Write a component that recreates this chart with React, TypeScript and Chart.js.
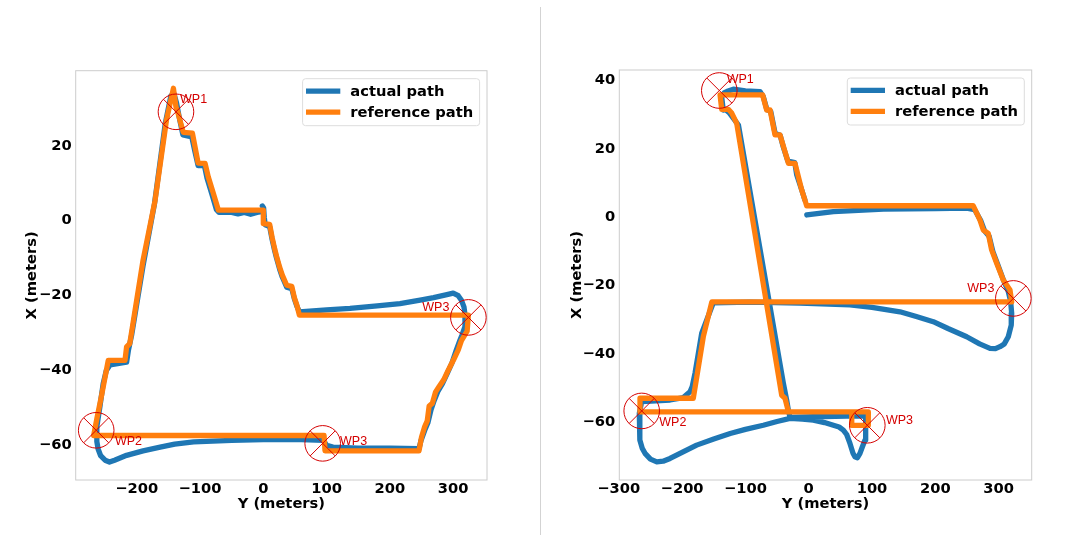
import React, { useEffect, useRef } from "react";
import { Chart, registerables } from "chart.js";

Chart.register(...registerables);
Chart.defaults.font.family = "'DejaVu Sans', sans-serif";

const BLUE = "#1f77b4";
const ORANGE = "#ff7f0e";
const WP_RED = "#d40000";

const seriesLabels = ["actual path", "reference path"];
const axisTitleH = "Y (meters)";
const axisTitleV = "X (meters)";

const leftXTicks = [-200, -100, 0, 100, 200, 300];
const leftYTicks = [-60, -40, -20, 0, 20];
const rightXTicks = [-300, -200, -100, 0, 100, 200, 300];
const rightYTicks = [-60, -40, -20, 0, 20, 40];
const leftXRange = [-296.4, 353.4];
const leftYRange = [-69.8, 39.7];
const rightXRange = [-299.2, 352.3];
const rightYRange = [-77.3, 42.6];

// pairs are [Y (meters) horizontal, X (meters) vertical]
const leftReference: [number, number][] = [
  [0, 2.4], [0, -1.2], [10, -1.4], [14, -5], [18, -8], [21, -10], [26, -13], [30, -15],
  [37, -17.7], [45, -18], [49, -21], [53, -23], [57, -25.7], [324, -25.7], [322, -30],
  [313, -32.5], [308, -35], [301, -37.5], [292, -40.5], [285, -43], [277, -45], [272, -46.3],
  [267, -49.3], [262, -50], [259, -54], [255, -55.5], [250, -58.3], [246, -62], [97.5, -62],
  [96, -57.9], [-268, -57.9], [-263, -53.4], [-255, -46.7], [-245, -37.8], [-218.5, -37.8],
  [-216, -34.2], [-211, -33.3], [-190, -11], [-171, 5], [-153, 26.5], [-142, 35], [-138, 30],
  [-135, 28.5], [-131, 26], [-126.4, 23.2], [-112, 23], [-103, 15], [-92, 14.9], [-87, 11.3],
  [-79, 6.9], [-71, 2.4], [-2.5, 2.4], [0, 2.4],
];

const leftActual: [number, number][] = [
  [-1.5, 3.5], [0.5, 3], [1.5, 0.5], [3, -1.5], [10, -2], [14, -5.5], [18, -8.5], [21, -10.5],
  [26, -13.5], [30, -15.5], [37, -18.2], [45, -18.6], [49, -21.3], [53, -23.3], [57, -24.8],
  [100, -24.3], [137, -23.9], [180, -23.2], [216, -22.6], [250, -21.6], [269, -21], [290, -20.2],
  [300, -19.8], [308, -20.5], [313, -21.7], [317, -23.5], [318.6, -25.5], [318.6, -28.8],
  [314, -31], [310.5, -32.5], [305, -35], [298, -38.5], [290, -41.5], [283, -44], [276, -46],
  [270, -48.5], [265, -51], [260, -54.5], [255, -56.5], [249, -59.3], [246, -61.4], [200, -61.3],
  [150, -61.3], [110, -61], [100, -60.5], [95, -59.2], [60, -59], [0, -59], [-50, -59.2],
  [-110, -59.6], [-140, -60.2], [-163, -61], [-190, -62], [-216, -63.2], [-235, -64.5],
  [-243, -65], [-250, -64.5], [-257, -63.3], [-261, -61.5], [-263, -59.5], [-263, -55.6],
  [-258, -50], [-253, -44], [-248, -40.5], [-242, -39], [-216, -38.3], [-213, -35], [-208, -31],
  [-190, -12.5], [-172, 4], [-155, 25.5], [-146, 33], [-141, 33.5], [-137, 31], [-132, 26.5],
  [-127, 22.5], [-113, 22], [-108, 18], [-103, 14.3], [-93, 14.3], [-89, 11], [-80, 6],
  [-74, 2.5], [-70, 1.8], [-50, 1.8], [-40, 1.4], [-30, 1.8], [-20, 1.3], [-10, 1.8], [-3, 2],
];

const leftWaypoints: [number, number][] = [[-138, 28.7], [-264, -56.5], [93.8, -60], [324, -26.3]];
const leftWaypointNames = ["WP1", "WP2", "WP3", "WP3"];
const leftWaypointLabelAt: [number, number][] = [[-131.6, 32.1], [-234.4, -59.6], [121.2, -59.4], [251.2, -23.6]];

const rightReference: [number, number][] = [
  [-3, 2.9], [260, 2.9], [270.6, -1.3], [275.8, -4.2], [283.7, -5.2], [289, -10], [297, -13.9],
  [307.4, -18.8], [318, -21.7], [320.7, -25.2], [-153, -25.2], [-166.5, -35.4], [-182.3, -53.4],
  [-266.5, -53.4], [-266.5, -57.4], [94.2, -57.4], [94.2, -61.3], [68, -61.3], [68, -57.4],
  [-32, -57.4], [-37.4, -53.4], [-42.6, -52.5], [-113.7, 27], [-121.6, 30], [-127, 31.1],
  [-137.4, 31.1], [-140, 35.3], [-72.7, 35.3], [-66.4, 30.9], [-61, 30.9], [-53.2, 23.6],
  [-45.3, 23.6], [-32, 15.3], [-21.6, 15.3], [-11, 7.5], [-3.2, 2.9],
];

const rightActual: [number, number][] = [
  [-3, 0.2], [39, 1.2], [118, 1.9], [200, 2.1], [249.6, 2.2], [262, 1.8], [272, -1.5], [278, -4.5],
  [285, -6], [291, -10.5], [299, -14.5], [308, -19], [315, -22], [319, -25], [320.7, -28.6],
  [320, -32], [315.3, -35.4], [309, -37.5], [302.2, -38.3], [295, -38.9], [286.4, -38.8],
  [270, -37.5], [249.6, -35.4], [220, -33], [196.8, -31], [170, -29.5], [144.2, -28.1],
  [100, -26.8], [65.2, -26.1], [-13.7, -25.6], [-92.7, -25.3], [-150.7, -25.5], [-160, -30],
  [-169, -34.4], [-175, -41], [-179.6, -46.1], [-184, -50], [-187.5, -51.5], [-198, -53.2],
  [-219, -53.9], [-263.8, -54.4], [-267.6, -57.8], [-267, -62], [-266.5, -65.6], [-263, -68],
  [-258.6, -69.5], [-250, -71.2], [-240, -72], [-230, -71.8], [-219, -71], [-200, -69.2],
  [-177, -67.1], [-150, -65.3], [-124, -63.7], [-100, -62.5], [-71.7, -61.3], [-50, -60.2],
  [-29.5, -59.3], [-10, -59.5], [7.3, -59.8], [25, -60.5], [39, -61.3], [48, -61.8],
  [54.7, -62.7], [60, -64], [65.2, -66.6], [70, -69.5], [73, -70.5], [77, -70.8], [81, -69.5],
  [85, -67.5], [89, -65.6], [90.5, -62], [90.5, -59.8], [89, -58.6], [60, -58.6], [7.3, -58.8],
  [-29.5, -59], [-32, -57], [-34.8, -53.9], [-40, -49], [-111, 26.5], [-125, 30], [-131, 31],
  [-135, 30.9], [-137.5, 34.8], [-133, 36], [-129.5, 36.3], [-119, 37], [-100, 36.5],
  [-77, 36.3], [-71.7, 34.8], [-66, 31], [-60, 30.5], [-53, 24], [-45, 23.5], [-40, 20],
  [-33, 16], [-22, 15.5], [-19, 12], [-11, 7.5], [-6, 4.6],
];

const rightWaypoints: [number, number][] = [[-141.2, 36.6], [-263.8, -57.1], [92.6, -61.3], [323.3, -24.2]];
const rightWaypointNames = ["WP1", "WP2", "WP3", "WP3"];
const rightWaypointLabelAt: [number, number][] = [[-129.5, 39.7], [-236, -60.5], [122.1, -60], [250.6, -21.2]];

const TICK_FONT = { family: "'DejaVu Sans', sans-serif", size: 14.7, weight: "bold" as const };

function fmt(v: number) {
  return v < 0 ? "\u2212" + Math.abs(v) : String(v);
}

type PanelSpec = {
  actual: [number, number][];
  reference: [number, number][];
  waypoints: [number, number][];
  names: string[];
  labelAt: [number, number][];
  xTicks: number[];
  yTicks: number[];
  xRange: number[];
  yRange: number[];
  yAxisWidth: number;
  yTitlePad: number;
  padding: { top: number; right: number; bottom: number; left: number };
};

const framePlugin = {
  id: "frame",
  beforeDatasetsDraw(chart: any) {
    const { ctx, chartArea: a } = chart;
    ctx.save();
    ctx.strokeStyle = "#cccccc";
    ctx.lineWidth = 1;
    ctx.strokeRect(a.left, a.top, a.right - a.left, a.bottom - a.top);
    ctx.restore();
  },
};

const legendPlugin = {
  id: "pathLegend",
  afterDraw(chart: any) {
    const { ctx, chartArea: a } = chart;
    const w = 177;
    const h = 47;
    const x0 = a.right - 7.4 - w;
    const y0 = a.top + 8;
    ctx.save();
    ctx.fillStyle = "rgba(255,255,255,0.8)";
    ctx.strokeStyle = "#dddddd";
    ctx.lineWidth = 1;
    ctx.beginPath();
    (ctx as any).roundRect(x0, y0, w, h, 3);
    ctx.fill();
    ctx.stroke();
    ctx.font = "bold 14.7px 'DejaVu Sans', sans-serif";
    ctx.textBaseline = "middle";
    ctx.textAlign = "left";
    for (let i = 0; i < 2; i++) {
      const ds = chart.data.datasets[i];
      const y = y0 + 12.4 + i * 21;
      ctx.strokeStyle = ds.borderColor;
      ctx.lineWidth = 5.3;
      ctx.lineCap = "butt";
      ctx.beginPath();
      ctx.moveTo(x0 + 3.4, y);
      ctx.lineTo(x0 + 37.7, y);
      ctx.stroke();
      ctx.fillStyle = "#000";
      ctx.fillText(ds.label, x0 + 47.7, y + 1);
    }
    ctx.restore();
  },
};

function makeLabelPlugin(spec: PanelSpec) {
  return {
    id: "wpLabels",
    afterDatasetsDraw(chart: any) {
      const { ctx, scales } = chart;
      ctx.save();
      ctx.font = "12.5px 'Liberation Sans', Arial, sans-serif";
      ctx.fillStyle = WP_RED;
      ctx.textAlign = "left";
      ctx.textBaseline = "middle";
      spec.labelAt.forEach(([h, v], i) => {
        ctx.fillText(spec.names[i], scales.x.getPixelForValue(h), scales.y.getPixelForValue(v));
      });
      ctx.restore();
    },
  };
}

function buildConfig(spec: PanelSpec): any {
  const toXY = (arr: [number, number][]) => arr.map(([h, v]) => ({ x: h, y: v }));
  const lineCommon = {
    showLine: true,
    pointRadius: 0,
    borderWidth: 5.3,
    tension: 0,
    borderJoinStyle: "round",
    borderCapStyle: "round",
  };
  const wpCommon = {
    data: toXY(spec.waypoints),
    showLine: false,
    pointRadius: 17.8,
    pointBorderColor: WP_RED,
    pointBackgroundColor: "rgba(0,0,0,0)",
    pointBorderWidth: 1,
    clip: false,
    order: 0,
  };
  return {
    type: "scatter",
    data: {
      datasets: [
        { ...lineCommon, label: seriesLabels[0], data: toXY(spec.actual), borderColor: BLUE, backgroundColor: BLUE, order: 2 },
        { ...lineCommon, label: seriesLabels[1], data: toXY(spec.reference), borderColor: ORANGE, backgroundColor: ORANGE, order: 1 },
        { ...wpCommon, label: "wp-circle", pointStyle: "circle" },
        { ...wpCommon, label: "wp-cross", pointStyle: "crossRot" },
      ],
    },
    options: {
      animation: false,
      responsive: false,
      events: [],
      layout: { padding: spec.padding },
      plugins: { legend: { display: false }, tooltip: { enabled: false } },
      scales: {
        x: {
          type: "linear",
          min: spec.xRange[0],
          max: spec.xRange[1],
          afterBuildTicks: (s: any) => {
            s.ticks = spec.xTicks.map((v) => ({ value: v }));
          },
          afterFit: (s: any) => {
            s.height = 55;
          },
          grid: { display: false, drawTicks: false },
          border: { display: false },
          ticks: { font: TICK_FONT, color: "#000", padding: 0, maxRotation: 0, autoSkip: false, callback: (v: any) => fmt(Number(v)) },
          title: { display: true, text: axisTitleH, font: TICK_FONT, color: "#000", padding: { top: 0, bottom: 22.4 } },
        },
        y: {
          type: "linear",
          min: spec.yRange[0],
          max: spec.yRange[1],
          afterBuildTicks: (s: any) => {
            s.ticks = spec.yTicks.map((v) => ({ value: v }));
          },
          afterFit: (s: any) => {
            s.width = spec.yAxisWidth;
          },
          grid: { display: false, drawTicks: false },
          border: { display: false },
          ticks: { font: TICK_FONT, color: "#000", padding: 4, labelOffset: 1.5, autoSkip: false, callback: (v: any) => fmt(Number(v)) },
          title: { display: true, text: axisTitleV, font: TICK_FONT, color: "#000", padding: { top: spec.yTitlePad, bottom: 0 } },
        },
      },
    },
    plugins: [framePlugin, makeLabelPlugin(spec), legendPlugin],
  };
}

const leftSpec: PanelSpec = {
  actual: leftActual,
  reference: leftReference,
  waypoints: leftWaypoints,
  names: leftWaypointNames,
  labelAt: leftWaypointLabelAt,
  xTicks: leftXTicks,
  yTicks: leftYTicks,
  xRange: leftXRange,
  yRange: leftYRange,
  yAxisWidth: 75.7,
  yTitlePad: 23.5,
  padding: { top: 70.7, right: 50, bottom: 0, left: 0 },
};

const rightSpec: PanelSpec = {
  actual: rightActual,
  reference: rightReference,
  waypoints: rightWaypoints,
  names: rightWaypointNames,
  labelAt: rightWaypointLabelAt,
  xTicks: rightXTicks,
  yTicks: rightYTicks,
  xRange: rightXRange,
  yRange: rightYRange,
  yAxisWidth: 82.3,
  yTitlePad: 31.2,
  padding: { top: 70, right: 43.3, bottom: 0, left: 0 },
};

function Panel({ spec, left, width }: { spec: PanelSpec; left: number; width: number }) {
  const ref = useRef<HTMLCanvasElement | null>(null);
  useEffect(() => {
    if (!ref.current) return;
    const chart = new Chart(ref.current, buildConfig(spec));
    return () => chart.destroy();
  }, [spec]);
  return (
    <div style={{ position: "absolute", left, top: 0, width, height: 535 }}>
      <canvas ref={ref} width={width} height={535} style={{ display: "block", width, height: 535 }} />
    </div>
  );
}

export default function App() {
  return (
    <div style={{ position: "absolute", left: 0, top: 0, width: 1075, height: 535, background: "#fff", overflow: "hidden" }}>
      <Panel spec={leftSpec} left={0} width={537} />
      <Panel spec={rightSpec} left={537} width={538} />
      <div style={{ position: "absolute", left: 540, top: 7, width: 1, height: 528, background: "#d3d3d3" }} />
    </div>
  );
}
